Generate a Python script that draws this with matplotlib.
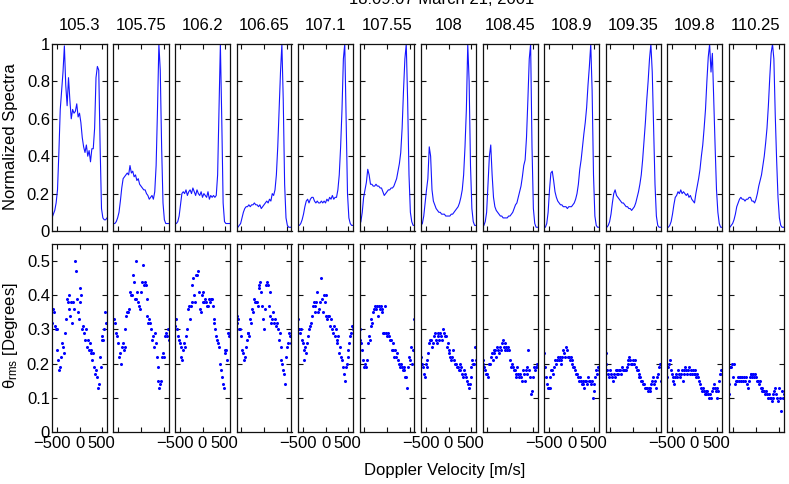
import matplotlib.pyplot as plt
from matplotlib.transforms import ScaledTranslation

plt.rcParams['font.family'] = 'Liberation Sans'
plt.rcParams['font.size'] = 12
plt.rcParams['mathtext.fontset'] = 'custom'
plt.rcParams['mathtext.rm'] = 'Liberation Sans'
plt.rcParams['mathtext.it'] = 'Liberation Sans'

freq_labels = ['105.3', '105.75', '106.2', '106.65', '107.1', '107.55',
               '108', '108.45', '108.9', '109.35', '109.8', '110.25']

# velocity grids (m/s)
vel_spec = list(range(-600, 601, 30))
vel_theta = list(range(-600, 601, 20))

# normalized spectra, one per frequency
spec_105_3 = [0.07, 0.09, 0.11, 0.15, 0.22, 0.42, 0.65, 0.75, 0.85, 0.99,
              0.78, 0.67, 0.82, 0.70, 0.60, 0.65, 0.63, 0.64, 0.68, 0.61,
              0.63, 0.58, 0.50, 0.45, 0.42, 0.46, 0.40, 0.43, 0.37, 0.44,
              0.44, 0.55, 0.82, 0.88, 0.86, 0.45, 0.12, 0.07, 0.06, 0.06, 0.07]
spec_105_75 = [0.04, 0.04, 0.05, 0.07, 0.10, 0.16, 0.23, 0.28, 0.29, 0.30,
               0.31, 0.30, 0.35, 0.31, 0.32, 0.29, 0.30, 0.27, 0.28, 0.25,
               0.24, 0.23, 0.22, 0.22, 0.20, 0.19, 0.17, 0.18, 0.19, 0.17,
               0.21, 0.35, 0.65, 1.00, 0.86, 0.45, 0.15, 0.06, 0.04, 0.04, 0.04]
spec_106_2 = [0.04, 0.04, 0.05, 0.08, 0.14, 0.20, 0.21, 0.20, 0.22, 0.19,
              0.21, 0.22, 0.20, 0.23, 0.21, 0.19, 0.22, 0.20, 0.19, 0.21,
              0.18, 0.20, 0.19, 0.18, 0.21, 0.17, 0.19, 0.18, 0.19, 0.18,
              0.19, 0.30, 0.65, 1.00, 0.60, 0.15, 0.05, 0.04, 0.04, 0.04, 0.04]
spec_106_65 = [0.02, 0.02, 0.03, 0.04, 0.07, 0.10, 0.12, 0.13, 0.13, 0.14,
               0.13, 0.14, 0.14, 0.15, 0.14, 0.14, 0.13, 0.14, 0.12, 0.13,
               0.14, 0.15, 0.16, 0.15, 0.17, 0.16, 0.20, 0.19, 0.22, 0.30,
               0.45, 0.65, 0.85, 1.00, 0.70, 0.25, 0.07, 0.03, 0.02, 0.02, 0.02]
spec_107_1 = [0.03, 0.03, 0.04, 0.06, 0.09, 0.13, 0.16, 0.17, 0.15, 0.17,
              0.18, 0.18, 0.16, 0.15, 0.16, 0.15, 0.15, 0.16, 0.15, 0.16,
              0.15, 0.17, 0.16, 0.18, 0.17, 0.19, 0.17, 0.18, 0.18, 0.22,
              0.30, 0.45, 0.65, 0.92, 1.00, 0.60, 0.20, 0.07, 0.04, 0.03, 0.03]
spec_107_55 = [0.03, 0.05, 0.10, 0.18, 0.22, 0.26, 0.33, 0.30, 0.25, 0.25,
               0.24, 0.24, 0.25, 0.24, 0.24, 0.23, 0.23, 0.21, 0.19, 0.20,
               0.21, 0.22, 0.22, 0.23, 0.23, 0.24, 0.26, 0.28, 0.32, 0.36,
               0.42, 0.55, 0.75, 0.92, 1.00, 0.70, 0.30, 0.10, 0.05, 0.03, 0.03]
spec_108 = [0.03, 0.04, 0.08, 0.15, 0.22, 0.28, 0.45, 0.40, 0.22, 0.16,
            0.14, 0.12, 0.11, 0.10, 0.10, 0.09, 0.09, 0.09, 0.08, 0.08,
            0.08, 0.08, 0.09, 0.09, 0.10, 0.11, 0.12, 0.13, 0.15, 0.18,
            0.22, 0.30, 0.45, 0.65, 1.00, 0.80, 0.35, 0.12, 0.05, 0.03, 0.03]
spec_108_45 = [0.02, 0.03, 0.05, 0.10, 0.25, 0.40, 0.46, 0.30, 0.18, 0.13,
               0.11, 0.10, 0.09, 0.08, 0.08, 0.07, 0.07, 0.07, 0.07, 0.08,
               0.08, 0.09, 0.10, 0.12, 0.14, 0.15, 0.18, 0.21, 0.24, 0.29,
               0.35, 0.38, 0.50, 0.70, 0.92, 1.00, 0.45, 0.12, 0.04, 0.02, 0.02]
spec_108_9 = [0.02, 0.02, 0.04, 0.10, 0.22, 0.31, 0.32, 0.27, 0.21, 0.18,
              0.16, 0.15, 0.14, 0.14, 0.13, 0.13, 0.13, 0.12, 0.13, 0.13,
              0.13, 0.14, 0.15, 0.17, 0.20, 0.25, 0.33, 0.38, 0.45, 0.52,
              0.58, 0.66, 0.78, 0.88, 1.00, 0.75, 0.30, 0.08, 0.03, 0.02, 0.02]
spec_109_35 = [0.02, 0.02, 0.03, 0.05, 0.09, 0.15, 0.20, 0.22, 0.19, 0.18,
               0.17, 0.16, 0.15, 0.15, 0.14, 0.13, 0.13, 0.12, 0.12, 0.11,
               0.12, 0.13, 0.15, 0.18, 0.21, 0.25, 0.30, 0.38, 0.48, 0.58,
               0.70, 0.80, 0.92, 1.00, 0.85, 0.55, 0.25, 0.08, 0.03, 0.02, 0.02]
spec_109_8 = [0.02, 0.02, 0.03, 0.05, 0.09, 0.14, 0.18, 0.19, 0.21, 0.20,
              0.22, 0.20, 0.21, 0.20, 0.19, 0.20, 0.18, 0.19, 0.17, 0.16,
              0.15, 0.20, 0.24, 0.28, 0.33, 0.40, 0.46, 0.55, 0.65, 0.80,
              0.93, 1.00, 0.85, 0.95, 0.70, 0.45, 0.22, 0.10, 0.04, 0.02, 0.02]
spec_110_25 = [0.02, 0.02, 0.03, 0.04, 0.06, 0.09, 0.13, 0.15, 0.17, 0.18,
               0.17, 0.17, 0.16, 0.17, 0.17, 0.18, 0.18, 0.16, 0.16, 0.15,
               0.17, 0.20, 0.24, 0.27, 0.30, 0.35, 0.40, 0.47, 0.55, 0.67,
               0.82, 0.95, 1.00, 0.92, 0.62, 0.38, 0.18, 0.07, 0.03, 0.02, 0.02]

# theta_rms in degrees, one per frequency
theta_105_3 = [0.32, 0.36, 0.35, 0.31, 0.30, 0.30, 0.24, 0.21, 0.18, 0.19,
               0.22, 0.26, 0.25, 0.23, 0.29, 0.33, 0.39, 0.38, 0.36, 0.40,
               0.34, 0.38, 0.32, 0.38, 0.36, 0.50, 0.47, 0.39, 0.35, 0.33,
               0.42, 0.38, 0.40, 0.30, 0.31, 0.29, 0.27, 0.30, 0.25, 0.27,
               0.24, 0.26, 0.24, 0.23, 0.21, 0.23, 0.19, 0.17, 0.18, 0.16,
               0.13, 0.14, 0.22, 0.19, 0.27, 0.28, 0.27, 0.30, 0.35, 0.32, 0.32]
theta_105_75 = [0.33, 0.33, 0.32, 0.29, 0.28, 0.26, 0.22, 0.23, 0.20, 0.25,
                0.26, 0.24, 0.25, 0.30, 0.34, 0.35, 0.35, 0.36, 0.41, 0.40,
                0.40, 0.46, 0.44, 0.39, 0.50, 0.39, 0.41, 0.38, 0.37, 0.36,
                0.41, 0.44, 0.49, 0.43, 0.44, 0.43, 0.39, 0.34, 0.32, 0.33,
                0.32, 0.30, 0.27, 0.28, 0.25, 0.29, 0.26, 0.22, 0.19, 0.15,
                0.13, 0.14, 0.15, 0.22, 0.23, 0.22, 0.28, 0.29, 0.28, 0.30, 0.27]
theta_106_2 = [0.31, 0.33, 0.30, 0.28, 0.27, 0.26, 0.25, 0.22, 0.21, 0.24,
               0.26, 0.25, 0.28, 0.30, 0.36, 0.37, 0.33, 0.37, 0.38, 0.43,
               0.45, 0.40, 0.38, 0.46, 0.46, 0.47, 0.41, 0.36, 0.35, 0.40,
               0.41, 0.38, 0.38, 0.39, 0.38, 0.37, 0.37, 0.39, 0.38, 0.39,
               0.39, 0.37, 0.33, 0.32, 0.30, 0.28, 0.27, 0.26, 0.25, 0.20,
               0.18, 0.16, 0.14, 0.13, 0.23, 0.24, 0.24, 0.21, 0.29, 0.28, 0.29]
theta_106_65 = [0.34, 0.32, 0.33, 0.30, 0.30, 0.28, 0.24, 0.23, 0.21, 0.22,
                0.25, 0.27, 0.29, 0.29, 0.28, 0.33, 0.32, 0.36, 0.35, 0.39,
                0.38, 0.38, 0.38, 0.37, 0.43, 0.42, 0.44, 0.41, 0.37, 0.33,
                0.30, 0.36, 0.43, 0.44, 0.43, 0.37, 0.41, 0.34, 0.32, 0.33,
                0.35, 0.32, 0.33, 0.31, 0.32, 0.30, 0.27, 0.29, 0.25, 0.21,
                0.20, 0.18, 0.17, 0.14, 0.22, 0.25, 0.26, 0.29, 0.28, 0.26, 0.29]
theta_107_1 = [0.33, 0.30, 0.29, 0.30, 0.27, 0.26, 0.24, 0.21, 0.25, 0.23,
               0.26, 0.28, 0.30, 0.31, 0.32, 0.34, 0.37, 0.38, 0.37, 0.35,
               0.38, 0.41, 0.35, 0.36, 0.38, 0.45, 0.39, 0.35, 0.40, 0.38,
               0.40, 0.34, 0.33, 0.34, 0.34, 0.31, 0.33, 0.30, 0.29, 0.31,
               0.28, 0.30, 0.27, 0.26, 0.28, 0.23, 0.25, 0.22, 0.21, 0.19,
               0.17, 0.15, 0.19, 0.20, 0.24, 0.22, 0.26, 0.28, 0.29, 0.31, 0.30]
theta_107_55 = [0.30, 0.27, 0.26, 0.24, 0.21, 0.19, 0.20, 0.19, 0.21, 0.26,
                0.28, 0.27, 0.31, 0.33, 0.32, 0.35, 0.36, 0.37, 0.36, 0.37,
                0.34, 0.37, 0.36, 0.37, 0.35, 0.36, 0.29, 0.29, 0.37, 0.29,
                0.28, 0.29, 0.28, 0.27, 0.27, 0.24, 0.26, 0.24, 0.22, 0.24,
                0.22, 0.23, 0.21, 0.20, 0.19, 0.20, 0.19, 0.18, 0.19, 0.18,
                0.16, 0.16, 0.13, 0.19, 0.22, 0.21, 0.25, 0.20, 0.24, 0.33, 0.24]
theta_108 = [0.22, 0.20, 0.19, 0.17, 0.16, 0.20, 0.21, 0.19, 0.23, 0.26,
             0.27, 0.27, 0.25, 0.26, 0.28, 0.29, 0.27, 0.26, 0.29, 0.28,
             0.27, 0.29, 0.28, 0.27, 0.30, 0.29, 0.28, 0.28, 0.25, 0.26,
             0.23, 0.24, 0.22, 0.21, 0.22, 0.24, 0.21, 0.20, 0.20, 0.19,
             0.19, 0.18, 0.20, 0.18, 0.19, 0.17, 0.16, 0.18, 0.17, 0.16,
             0.15, 0.14, 0.13, 0.14, 0.16, 0.19, 0.21, 0.20, 0.20, 0.25, 0.21]
theta_108_45 = [0.20, 0.21, 0.19, 0.18, 0.17, 0.17, 0.16, 0.20, 0.20, 0.22,
                0.23, 0.21, 0.24, 0.23, 0.24, 0.22, 0.25, 0.24, 0.23, 0.25,
                0.24, 0.26, 0.27, 0.25, 0.24, 0.26, 0.25, 0.24, 0.25, 0.24,
                0.21, 0.19, 0.20, 0.19, 0.18, 0.18, 0.16, 0.17, 0.19, 0.17,
                0.16, 0.17, 0.16, 0.15, 0.18, 0.17, 0.15, 0.18, 0.17, 0.19,
                0.24, 0.18, 0.16, 0.11, 0.12, 0.16, 0.19, 0.18, 0.19, 0.20, 0.19]
theta_108_9 = [0.23, 0.19, 0.16, 0.14, 0.13, 0.13, 0.13, 0.16, 0.18, 0.18,
               0.17, 0.19, 0.21, 0.20, 0.21, 0.22, 0.21, 0.22, 0.20, 0.21,
               0.22, 0.24, 0.23, 0.22, 0.25, 0.24, 0.22, 0.22, 0.21, 0.22,
               0.21, 0.20, 0.19, 0.19, 0.18, 0.17, 0.17, 0.16, 0.15, 0.16,
               0.15, 0.14, 0.14, 0.15, 0.13, 0.15, 0.15, 0.14, 0.16, 0.15,
               0.15, 0.14, 0.15, 0.10, 0.12, 0.14, 0.16, 0.18, 0.17, 0.19, 0.18]
theta_109_35 = [0.23, 0.20, 0.18, 0.17, 0.16, 0.18, 0.17, 0.16, 0.15, 0.17,
                0.16, 0.18, 0.17, 0.18, 0.17, 0.18, 0.18, 0.17, 0.19, 0.18,
                0.18, 0.18, 0.18, 0.19, 0.21, 0.20, 0.22, 0.21, 0.20, 0.20,
                0.21, 0.20, 0.21, 0.19, 0.18, 0.18, 0.17, 0.16, 0.16, 0.15,
                0.15, 0.14, 0.14, 0.13, 0.13, 0.13, 0.12, 0.13, 0.12, 0.13,
                0.14, 0.15, 0.16, 0.14, 0.15, 0.13, 0.16, 0.17, 0.19, 0.20, 0.15]
theta_109_8 = [0.16, 0.19, 0.20, 0.21, 0.18, 0.17, 0.15, 0.16, 0.14, 0.16,
               0.17, 0.16, 0.18, 0.17, 0.16, 0.17, 0.18, 0.15, 0.18, 0.17,
               0.19, 0.18, 0.17, 0.18, 0.19, 0.17, 0.18, 0.17, 0.18, 0.17,
               0.18, 0.17, 0.16, 0.17, 0.16, 0.15, 0.14, 0.13, 0.12, 0.13,
               0.12, 0.11, 0.12, 0.11, 0.12, 0.11, 0.10, 0.11, 0.10, 0.12,
               0.13, 0.14, 0.13, 0.12, 0.10, 0.13, 0.12, 0.15, 0.17, 0.18, 0.17]
theta_110_25 = [0.11, 0.14, 0.19, 0.19, 0.20, 0.16, 0.20, 0.14, 0.15, 0.15,
                0.16, 0.15, 0.16, 0.16, 0.15, 0.16, 0.15, 0.16, 0.15, 0.16,
                0.14, 0.13, 0.15, 0.16, 0.17, 0.17, 0.16, 0.17, 0.16, 0.17,
                0.16, 0.15, 0.15, 0.14, 0.15, 0.13, 0.13, 0.12, 0.12, 0.12,
                0.11, 0.12, 0.11, 0.10, 0.11, 0.10, 0.10, 0.09, 0.10, 0.11,
                0.12, 0.13, 0.11, 0.10, 0.09, 0.13, 0.10, 0.06, 0.12, 0.10, 0.11]

spectra = [spec_105_3, spec_105_75, spec_106_2, spec_106_65, spec_107_1, spec_107_55,
           spec_108, spec_108_45, spec_108_9, spec_109_35, spec_109_8, spec_110_25]
thetas = [theta_105_3, theta_105_75, theta_106_2, theta_106_65, theta_107_1, theta_107_55,
          theta_108, theta_108_45, theta_108_9, theta_109_35, theta_109_8, theta_110_25]

W, H = 789.0, 484.0
fig = plt.figure(figsize=(W / 100, H / 100), dpi=100)

frame = '#111111'

def style(ax):
    for s in ax.spines.values():
        s.set_color(frame)
        s.set_linewidth(0.9)
    ax.tick_params(direction='in', top=True, right=True, length=3.5,
                   width=0.8, color=frame, labelsize=12)
    ax.tick_params(axis='x', pad=3.2)
    ax.tick_params(axis='y', pad=1.5)
    ax.set_xlim(-600, 600)
    ax.set_xticks([-500, 0, 500])

for i in range(12):
    x0 = 52 + 61.5 * i

    ax = fig.add_axes([x0 / W, 1 - 231 / H, 55 / W, 187 / H])
    ax.plot(vel_spec, spectra[i], color='#1515ff', lw=0.8)
    style(ax)
    ax.set_ylim(0, 1)
    ax.set_yticks([0, 0.2, 0.4, 0.6, 0.8, 1])
    ax.set_xticklabels([])
    if i == 0:
        ax.set_yticklabels(['0', '0.2', '0.4', '0.6', '0.8', '1'])
    else:
        ax.set_yticklabels([])
    fig.text((x0 + 27.5) / W, 1 - 26 / H, freq_labels[i], ha='center', va='center', fontsize=12)

    ax2 = fig.add_axes([x0 / W, 1 - 432 / H, 55 / W, 188 / H])
    ax2.plot(vel_theta, thetas[i], '.', color='#0000ff', ms=2.4)
    style(ax2)
    ax2.set_ylim(0, 0.55)
    ax2.set_yticks([0, 0.1, 0.2, 0.3, 0.4, 0.5])
    if i % 2 == 0:
        ax2.set_xticklabels(['\u2212500', '0', '500'])
        labs = ax2.get_xticklabels()
        # nudge the outer labels left like the original export
        labs[0].set_transform(labs[0].get_transform() + ScaledTranslation(-0.05, 0, fig.dpi_scale_trans))
        labs[2].set_transform(labs[2].get_transform() + ScaledTranslation(-0.015, 0, fig.dpi_scale_trans))
    else:
        ax2.set_xticklabels([])
    if i == 0:
        ax2.set_yticklabels(['0', '0.1', '0.2', '0.3', '0.4', '0.5'])
    else:
        ax2.set_yticklabels([])

fig.text(442 / W, 1 - 4 / H, '18:09:07 March 21, 2001', ha='center', va='baseline', fontsize=12)
fig.text(11 / W, 1 - 137 / H, 'Normalized Spectra', rotation=90, ha='center', va='center', fontsize=12)
fig.text(11 / W, 1 - 336 / H, r'$\mathregular{\theta_{rms}}$ [Degrees]', rotation=90,
         ha='center', va='center', fontsize=12)
fig.text(445 / W, 1 - 470 / H, 'Doppler Velocity [m/s]', ha='center', va='center', fontsize=12)

fig.savefig('out.png', dpi=100)
